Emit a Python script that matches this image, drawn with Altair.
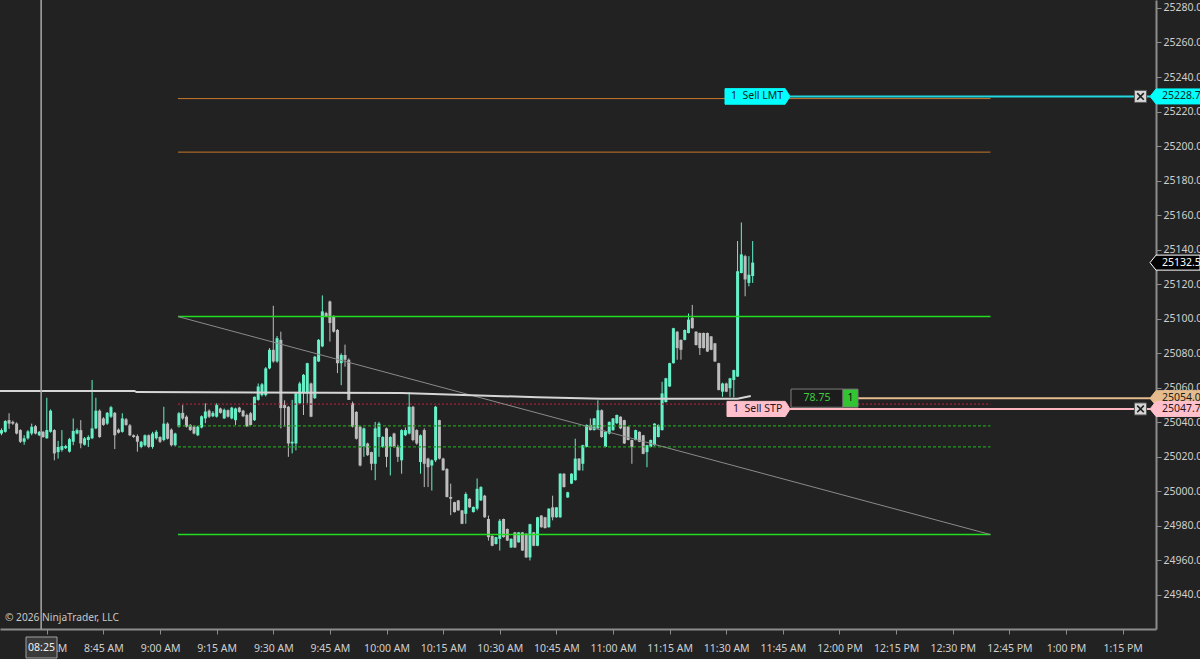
import altair as alt
import pandas as pd

# ---------------------------------------------------------------- bar data
# 1-minute bars starting 08:18 (minutes after midnight)
FIRST_BAR_MINUTE = 498

opens = [
    25033.5, 25034.5, 25041.25, 25040.25, 25039.25, 25035.5, 25028.75, 25030.75, 25033.5, 25037.75,
    25032.5, 25034.5, 25030.75, 25034.5, 25035.5, 25022.75, 25024, 25025, 25023, 25028.75,
    25033.5, 25035.5, 25027, 25029.75, 25030.75, 25036.5, 25046.75, 25042.25, 25039.25, 25043.25,
    25045.5, 25035.75, 25034.5, 25041.75, 25038.25, 25032.5, 25032, 25025.75, 25026.75, 25032.5,
    25025.75, 25030.75, 25031.5, 25029.75, 25039.25, 25035.75, 25026.75, 25037.5, 25045.5, 25043.25,
    25038.5, 25037.5, 25032.5, 25037, 25042.25, 25046.75, 25043.5, 25043.25, 25048, 25042.25,
    25047, 25042.25, 25041.25, 25048.5, 25046.75, 25044.25, 25045.25, 25041.25, 25053, 25055.75,
    25055.75, 25071.25, 25082, 25075.25, 25087.75, 25050, 25049, 25027.75, 25027.75, 25051,
    25056.75, 25056.75, 25062.5, 25054, 25075.25, 25084, 25103.25, 25110, 25101.5, 25093.5,
    25074.25, 25079, 25076.25, 25051, 25046, 25037.5, 25025.75, 25027.75, 25022.75, 25016,
    25031.5, 25025.75, 25036.5, 25025.75, 25033.5, 25025.75, 25018, 25032.5, 25033.5, 25049,
    25035.5, 25017, 25035.5, 25019, 25015, 25018, 25041.25, 25019, 25013, 24996.75,
    24993.75, 24994.75, 24989, 24987, 24995.75, 24988, 24990, 24994.75, 24997.5, 24984,
    24974.25, 24969.5, 24972.5, 24984, 24978.25, 24967.5, 24976.25, 24970.5, 24976.25, 24975.5,
    24961.75, 24976.25, 24968.5, 24986, 24985, 24979.25, 24990.75, 24985, 24985, 25010.25,
    24996.5, 25004.5, 25006.5, 25019, 25016, 25025.75, 25038.5, 25035.5, 25036.5, 25047,
    25025.75, 25033.5, 25035.5, 25039.5, 25043.25, 25041.25, 25037.5, 25029.75, 25029.75, 25034.5,
    25032.5, 25022.75, 25025.75, 25026.75, 25031.5, 25035.5, 25051.75, 25060.75, 25074.25, 25092.5,
    25087.75, 25087.75, 25091.75, 25100.5, 25092.5, 25091.75, 25091.75, 25091.75, 25089.75, 25085.75,
    25074.25, 25057.75, 25062.5, 25059.75, 25064.5, 25066.5, 25126.5, 25136.25, 25120.75, 25124.75,
]

highs = [
    25036.5, 25041.25, 25045.25, 25041, 25040, 25036, 25032.5, 25035.5, 25039.25, 25038.5,
    25035, 25035, 25054.25, 25047.5, 25036, 25029.25, 25035.5, 25027, 25031, 25042.25,
    25036.5, 25041.25, 25031.5, 25032.5, 25064.5, 25054.25, 25047.5, 25043, 25046, 25049.5,
    25046, 25036.5, 25045.25, 25042.5, 25039, 25033, 25033, 25029.25, 25033, 25033,
    25034.5, 25035.5, 25032, 25049, 25040, 25036.5, 25034, 25046, 25050, 25044,
    25039, 25038, 25038, 25044, 25051, 25047.5, 25046.5, 25051, 25048.5, 25048,
    25047.5, 25049, 25048.5, 25049, 25047.25, 25045, 25046, 25055, 25062.5, 25062.75,
    25072, 25083, 25107.5, 25090, 25092.5, 25052.75, 25049.5, 25053, 25057.5, 25063.5,
    25068, 25074.5, 25063, 25078.5, 25088.25, 25113.5, 25104, 25110.5, 25102, 25094,
    25080, 25085, 25077, 25052, 25046.5, 25038, 25037, 25028.25, 25023, 25040.25,
    25040.25, 25032, 25037, 25032, 25034, 25027, 25036, 25037, 25057.5, 25049.5,
    25036, 25033, 25036.5, 25019.5, 25018.5, 25049.5, 25041.5, 25019.5, 25013.5, 25004.5,
    24994, 24995, 24989.25, 24999.5, 24996, 24991.25, 25007.5, 25003, 24998, 24986,
    24974.5, 24973.75, 24984, 24984.25, 24978.5, 24972.75, 24976.5, 24976.5, 24976.5, 24975.75,
    24981.25, 24976.5, 24985.25, 24986.25, 24985.25, 24990.25, 24997.5, 24991, 25010.5, 25010.5,
    24999.75, 25010.5, 25030.5, 25019.25, 25027, 25038.75, 25042.25, 25042.5, 25052.75, 25047.5,
    25035, 25040.5, 25042.5, 25044.5, 25043.5, 25041.5, 25037.75, 25030, 25035.75, 25034.75,
    25032.75, 25027, 25030, 25039.5, 25038.75, 25063.5, 25065.75, 25074.5, 25094.75, 25092.75,
    25088, 25093.75, 25103, 25108, 25092.75, 25092, 25092, 25092, 25090, 25086,
    25074.5, 25063, 25063, 25065.75, 25070.5, 25145, 25155.75, 25137, 25136.25, 25145,
]

lows = [
    25032.5, 25034, 25036.25, 25038.5, 25033, 25028, 25027, 25030, 25032.5, 25033,
    25032, 25031, 25030.5, 25034, 25018, 25019, 25023, 25024.5, 25022.5, 25026.75,
    25033, 25025, 25026.5, 25025.75, 25030.25, 25036, 25031, 25038, 25038.5, 25042.5,
    25024.5, 25033.5, 25034, 25038, 25032, 25031, 25023, 25025, 25026, 25025,
    25024.75, 25030, 25028, 25029, 25030, 25026, 25026, 25037, 25041.5, 25037,
    25035, 25033, 25032, 25036.5, 25039.5, 25042.5, 25043, 25042.75, 25045, 25042,
    25042.75, 25041.75, 25038.5, 25045.5, 25043, 25037.25, 25038, 25040.75, 25052.5, 25055,
    25055, 25070.75, 25074.5, 25074.5, 25036.5, 25037.5, 25020, 25022, 25023.75, 25050.5,
    25044.25, 25051, 25043, 25053.5, 25075, 25083.5, 25101, 25086.75, 25092, 25068.5,
    25061.5, 25072.25, 25053, 25037, 25030, 25014.5, 25020, 25020.5, 25012.25, 25006.5,
    25020, 25025.25, 25014, 25009.25, 25025.25, 25017, 25010.25, 25032, 25033, 25029,
    25027, 25010.25, 25002.5, 25002.5, 25000.5, 25017, 25018.5, 25012, 24996.5, 24986.25,
    24987.75, 24988.75, 24981, 24981.25, 24990.5, 24987.75, 24989, 24994.5, 24984.75, 24971.5,
    24968.25, 24969.25, 24965.75, 24973.25, 24971.25, 24967.25, 24967.25, 24970.25, 24965.5, 24961.5,
    24960, 24968.25, 24968.25, 24979, 24978.5, 24979, 24983.25, 24984.75, 24984.75, 25002.25,
    24996.25, 25004.25, 25006.25, 25012, 25012, 25025.5, 25035.25, 25035.25, 25036.25, 25031,
    25025.5, 25033, 25035, 25039, 25036, 25027.5, 25029.5, 25016, 25029.5, 25028.5,
    25021.5, 25014, 25025.5, 25026.5, 25031.25, 25035.25, 25051.5, 25060.5, 25074, 25076.25,
    25076.25, 25087.5, 25091.5, 25094.25, 25084.5, 25079, 25082.75, 25080.75, 25081.75, 25075,
    25058.5, 25054.75, 25057.5, 25054.75, 25054.5, 25066.25, 25126.25, 25113, 25118.75, 25120.75,
]

closes = [
    25035.5, 25040.75, 25039.25, 25039.25, 25033.5, 25028.75, 25030.75, 25034.75, 25037.5, 25033.5,
    25034.5, 25031.5, 25035.5, 25046.75, 25022, 25025.75, 25026.25, 25026.25, 25030.25, 25035,
    25035.5, 25027.75, 25030.75, 25031.5, 25036.5, 25046.75, 25031.5, 25038.5, 25045.5, 25048.75,
    25032.5, 25034, 25042.25, 25038.5, 25032.5, 25031.5, 25028.75, 25028.75, 25032.5, 25025.75,
    25033.5, 25034.5, 25028.75, 25039.25, 25030.5, 25026.75, 25033.5, 25045.25, 25042.25, 25037.5,
    25035.5, 25033.5, 25037.5, 25043.5, 25046.25, 25043.25, 25045.5, 25050, 25045.5, 25047.25,
    25043.25, 25048.5, 25048, 25046, 25043.5, 25037.75, 25038.5, 25054.75, 25060.75, 25062,
    25071.25, 25082, 25075.25, 25088.75, 25048.25, 25048.25, 25027.75, 25028.75, 25056.75, 25062.5,
    25067.5, 25074.25, 25043.25, 25078, 25087.75, 25104.25, 25101.5, 25097.5, 25092.5, 25074.25,
    25079, 25076.25, 25053, 25037.5, 25030.5, 25015, 25036.5, 25021, 25016, 25036.5,
    25039.25, 25031.5, 25020, 25031.5, 25025.75, 25020, 25035.5, 25035.5, 25049, 25029.75,
    25027.75, 25032.5, 25016, 25014, 25018, 25049, 25019, 25012.25, 24996.75, 24995.75,
    24988, 24989, 24981.25, 24998.5, 24990.75, 24991, 25001.5, 25002.5, 24985, 24973.5,
    24968.5, 24973.5, 24983, 24973.5, 24971.5, 24972.5, 24967.5, 24976.25, 24965.75, 24961.75,
    24981, 24968.5, 24985, 24979.25, 24978.75, 24990, 24985, 24990.75, 25010.25, 25002.5,
    24999.5, 25010.25, 25019, 25012.25, 25026.75, 25038.5, 25035.5, 25042.25, 25047, 25031.5,
    25034.5, 25040.25, 25042.25, 25044.25, 25036.5, 25027.75, 25029.75, 25025.75, 25035.5, 25028.75,
    25021.75, 25026.75, 25029.75, 25039.25, 25038.5, 25056.75, 25065.5, 25074.25, 25094.5, 25083,
    25082, 25093.5, 25099.5, 25094.5, 25084.75, 25083, 25083, 25081, 25082, 25075.25,
    25058.75, 25062.5, 25057.75, 25065.5, 25070.25, 25127.5, 25137.25, 25122.75, 25125.5, 25132.5,
]

# ------------------------------------------------------- drawing objects
DRAW_START = 544.75      # 09:04:45
DRAW_END = 760.0         # 12:40
orange_levels = [25227.5, 25196.5]
green_levels = [25101.25, 24975.0]
green_dotted_levels = [25038.0, 25025.75]
red_dotted_levels = [25050.5]
trend_prices = [25101.25, 24975.0]

# session line (minute, price)
vwap_minutes = [497.6, 533.2, 533.8, 604.0, 640.0, 657.0, 693.0, 696.5]
vwap_prices = [25058.2, 25058.2, 25057.5, 25057.0, 25054.5, 25053.6, 25053.6, 25055.2]

CROSSHAIR_MINUTE = 508.5
CROSSHAIR_LABEL = "08:25"

# ------------------------------------------------------- orders / position
SELL_LMT = 25228.75
SELL_STP = 25047.75
POSITION_PRICE = 25054.0
LAST_PRICE = 25132.5
OPEN_PNL = "78.75"
POSITION_QTY = "1"
NBSP = "\u00a0"

# --------------------------------------------------------------- styling
BG = "#222222"
BULL = "#66f0c8"
BEAR = "#bdbdbd"
AXIS_TEXT = "#cfcfcf"
AXIS_LINE = "#8c8c8c"
FONT = "Noto Sans"
FS = 10.5

X_DOMAIN = [497.6, 803.85]
Y_DOMAIN = [24920.3, 25284.6]

xs = alt.Scale(domain=X_DOMAIN, nice=False, zero=False)
ys = alt.Scale(domain=Y_DOMAIN, nice=False, zero=False)

# one axis definition shared by every layer so the layers merge into a single axis
x_axis = alt.Axis(
    values=list(range(510, 796, 15)),
    labelExpr=(
        "(floor(datum.value / 60) % 12 == 0 ? 12 : floor(datum.value / 60) % 12)"
        " + ':' + (datum.value % 60 < 10 ? '0' : '') + (datum.value % 60)"
        " + (datum.value < 720 ? ' AM' : ' PM')"
    ),
    title=None, labelPadding=9,
)
y_axis = alt.Axis(
    orient="right", values=list(range(24940, 25281, 20)), format=".1f",
    title=None, labelPadding=2,
)


def X(field):
    return alt.X(field, scale=xs, axis=x_axis)


def Y(field):
    return alt.Y(field, scale=ys, axis=y_axis)


bars = pd.DataFrame({
    "t": [FIRST_BAR_MINUTE + i for i in range(len(closes))],
    "open": opens, "high": highs, "low": lows, "close": closes,
})
bars["dir"] = ["up" if c >= o else "down" for o, c in zip(opens, closes)]
candle_color = alt.Color("dir:N", scale=alt.Scale(domain=["up", "down"], range=[BULL, BEAR]), legend=None)

wicks = alt.Chart(bars).mark_rule(strokeWidth=1).encode(
    x=X("t:Q"), y=Y("low:Q"), y2="high:Q", color=candle_color,
)
bodies = alt.Chart(bars).transform_calculate(
    x0="datum.t - 0.4", x1="datum.t + 0.4"
).mark_rect().encode(
    x=X("x0:Q"), x2="x1:Q", y=Y("open:Q"), y2="close:Q", color=candle_color,
)


def level_layer(levels, color, width, dash=None):
    df = pd.DataFrame({"price": levels, "start": DRAW_START, "end": DRAW_END})
    kw = dict(color=color, strokeWidth=width)
    if dash:
        kw["strokeDash"] = dash
    return alt.Chart(df).mark_rule(**kw).encode(x=X("start:Q"), x2="end:Q", y=Y("price:Q"))


orange = level_layer(orange_levels, "#c8782c", 1)
green = level_layer(green_levels, "#22dd22", 1.6)
green_dot = level_layer(green_dotted_levels, "#1f9e1f", 1.2, [3, 2])
red_dot = level_layer(red_dotted_levels, "#a8203c", 1.2, [2, 2])

trend = alt.Chart(pd.DataFrame({"t": [DRAW_START, DRAW_END], "price": trend_prices})).mark_line(
    color="#8a8a8a", strokeWidth=1
).encode(x=X("t:Q"), y=Y("price:Q"))

vwap = alt.Chart(pd.DataFrame({"t": vwap_minutes, "price": vwap_prices})).mark_line(
    color="#d6d6d6", strokeWidth=2
).encode(x=X("t:Q"), y=Y("price:Q"))

crosshair = alt.Chart(pd.DataFrame({"t": [CROSSHAIR_MINUTE]})).mark_rule(
    color="#a8a8a8", strokeWidth=1.5
).encode(x=X("t:Q"), y=alt.value(0), y2=alt.value(629))

cross_box = alt.Chart(pd.DataFrame({"label": [CROSSHAIR_LABEL]})).mark_rect(
    fill="#3a3a3a", stroke="#a0a0a0", strokeWidth=1
).encode(x=alt.value(26), x2=alt.value(57), y=alt.value(637), y2=alt.value(658))
cross_text = alt.Chart(pd.DataFrame({"label": [CROSSHAIR_LABEL]})).mark_text(
    font=FONT, fontSize=FS, color="#f0f0f0", align="center", baseline="middle"
).encode(x=alt.value(41.5), y=alt.value(647.5), text="label:N")

copyright_text = alt.Chart(pd.DataFrame({"label": ["© 2026 NinjaTrader, LLC"]})).mark_text(
    font=FONT, fontSize=10.2, color="#c8c8c8", align="left", baseline="middle"
).encode(x=alt.value(5), y=alt.value(618), text="label:N")


def order_line(price, color, x_from, x_to, width=2):
    return alt.Chart(pd.DataFrame({"price": [price]})).mark_rule(color=color, strokeWidth=width).encode(
        x=alt.value(x_from), x2=alt.value(x_to), y=Y("price:Q")
    )


lmt_line = order_line(SELL_LMT, "#22d8e0", 790, 1150)
stp_line = order_line(SELL_STP, "#ffb6c1", 790, 1150)
pos_line = order_line(POSITION_PRICE, "#e6bc8e", 858, 1156)

BOX_RIGHT_POINT = "M -1 -0.24 L 0.85 -0.24 L 1 0 L 0.85 0.24 L -1 0.24 Z"
TAG_LEFT_POINT = "M -1 0 L -0.76 -0.3 L 1 -0.3 L 1 0.3 L -0.76 0.3 Z"
SQUARE = "M -1 -1 L 1 -1 L 1 1 L -1 1 Z"
CROSS = "M -0.55 -0.55 L 0.55 0.55 M 0.55 -0.55 L -0.55 0.55"
WIDE_BOX = "M -1 -0.35 L 1 -0.35 L 1 0.35 L -1 0.35 Z"
TALL_BOX = "M -1 -1.2 L 1 -1.2 L 1 1.2 L -1 1.2 Z"


def shape_at(price, x, shape, size, fill, stroke=None, filled=True, width=1):
    kw = dict(shape=shape, size=size, opacity=1, strokeWidth=width, filled=filled)
    if filled:
        kw["fill"] = fill
    kw["stroke"] = stroke if stroke else fill
    return alt.Chart(pd.DataFrame({"price": [price]})).mark_point(**kw).encode(
        x=alt.value(x), y=Y("price:Q")
    )


def text_at(price, x, label, color, align="left", size=FS):
    return alt.Chart(pd.DataFrame({"price": [price], "label": [label]})).mark_text(
        font=FONT, fontSize=size, color=color, align=align, baseline="middle"
    ).encode(x=alt.value(x), y=Y("price:Q"), text="label:N")


order_marks = [
    shape_at(SELL_LMT, 757.5, BOX_RIGHT_POINT, 4225, "#00ffff"),
    text_at(SELL_LMT, 731, f"1{NBSP}{NBSP}Sell LMT", "#0e2626"),
    shape_at(SELL_STP, 758.5, BOX_RIGHT_POINT, 3969, "#ffc0cb"),
    text_at(SELL_STP, 733, f"1{NBSP}{NBSP}Sell STP", "#2a1418"),
    shape_at(POSITION_PRICE, 817, WIDE_BOX, 2704, "#1c1c1c", stroke="#7c7c7c"),
    text_at(POSITION_PRICE, 817, OPEN_PNL, "#3ccc3c", align="center"),
    shape_at(POSITION_PRICE, 850.5, TALL_BOX, 225, "#33c433", stroke="#7c7c7c"),
    text_at(POSITION_PRICE, 850.5, POSITION_QTY, "#0a0a0a", align="center"),
]

close_boxes = []
for p in [SELL_LMT, SELL_STP]:
    close_boxes.append(shape_at(p, 1140.5, SQUARE, 144, "#d6d6d6", stroke="#5a5a5a"))
    close_boxes.append(shape_at(p, 1140.5, CROSS, 144, None, stroke="#202020", filled=False, width=1.6))

axis_tags = []
for price, fill, stroke, txt in [
    (SELL_LMT, "#00ffff", "#00ffff", "#0e2626"),
    (LAST_PRICE, "#000000", "#ffffff", "#ffffff"),
    (POSITION_PRICE, "#e6bc8e", "#e6bc8e", "#1a1a1a"),
    (SELL_STP, "#ffc0cb", "#ffc0cb", "#2a1418"),
]:
    axis_tags.append(shape_at(price, 1175, TAG_LEFT_POINT, 2500, fill, stroke=stroke))
    axis_tags.append(text_at(price, 1162, f"{price:.2f}", txt))

chart = alt.layer(
    wicks, bodies,
    orange, green, green_dot, red_dot, trend, vwap, crosshair,
    lmt_line, stp_line, pos_line,
    *order_marks, *close_boxes, *axis_tags,
    cross_box, cross_text, copyright_text,
).properties(
    width=1156, height=629,
    padding={"left": 0, "top": 0, "right": 44, "bottom": 30},
    autosize=alt.AutoSizeParams(type="none"),
    background=BG,
).configure_view(
    stroke=None
).configure_axis(
    grid=False, domainColor=AXIS_LINE, domainWidth=2, tickColor=AXIS_LINE, tickSize=5,
    labelColor=AXIS_TEXT, labelFont=FONT, labelFontSize=FS, labelFlush=False, labelOverlap=False,
)

chart.save("out.html", embed_options={"renderer": "svg", "actions": False})
